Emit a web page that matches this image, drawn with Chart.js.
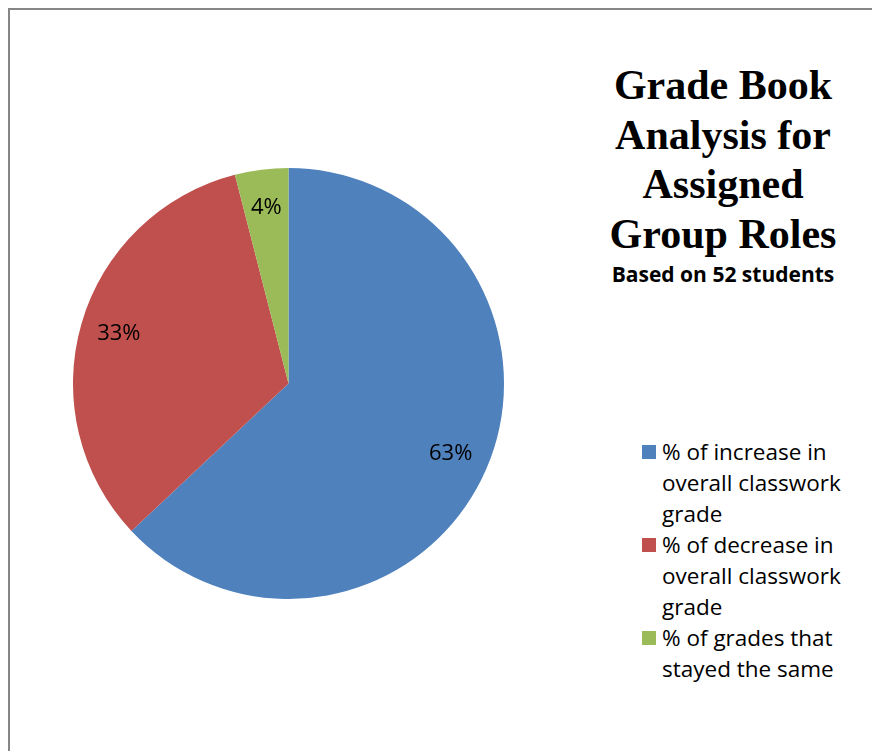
<!DOCTYPE html>
<html>
<head>
<meta charset="utf-8">
<title>Grade Book Analysis for Assigned Group Roles</title>
<script src="https://cdn.jsdelivr.net/npm/chart.js@4/dist/chart.umd.min.js"></script>
<style>
  html, body { margin: 0; padding: 0; background: #fff; overflow: hidden; }
  body { width: 872px; height: 751px; position: relative; }
  .frame {
    position: absolute; left: 8px; top: 8px; width: 864px; height: 743px;
    border-top: 2px solid #868686; border-left: 2px solid #868686; box-sizing: border-box;
  }
  .pie-box { position: absolute; left: 73px; top: 168px; width: 431px; height: 431px; }
  .title {
    position: absolute; left: 583px; top: 61px; width: 280px; text-align: center;
    font-family: "Liberation Serif", "Times New Roman", serif; font-weight: bold;
    font-size: 42px; line-height: 49.5px; color: #000;
  }
  .subtitle {
    position: absolute; left: 563px; top: 260px; width: 320px; text-align: center;
    font-family: "Open Sans", Lato, sans-serif; font-weight: bold; font-size: 21px; color: #000;
  }
  .legend {
    position: absolute; left: 642px; top: 436px; width: 230px;
    font-family: "Open Sans", Lato, sans-serif; font-size: 22.5px; line-height: 31px; color: #000;
  }
  .legend-item { position: relative; padding-left: 20px; width: 210px; }
  .legend-swatch { position: absolute; left: 0; top: 9px; width: 14px; height: 14px; }
</style>
</head>
<body>
<div class="frame"></div>
<div class="pie-box"><canvas id="gradePie" width="431" height="431"></canvas></div>
<div class="title">Grade Book<br>Analysis for<br>Assigned<br>Group Roles</div>
<div class="subtitle">Based on 52 students</div>
<div class="legend" id="legend"></div>

<script>
// Share of the 52 students in each outcome (percent)
const categories = [
  '% of increase in overall classwork grade',
  '% of decrease in overall classwork grade',
  '% of grades that stayed the same'
];
const percents = [63, 33, 4];
const sliceColors = ['#4F81BD', '#C0504D', '#9BBB59'];

// percentage text inside each slice
const sliceLabels = {
  id: 'sliceLabels',
  afterDatasetsDraw(chart) {
    const { ctx } = chart;
    const data = chart.data.datasets[0].data;
    const total = data.reduce((a, b) => a + b, 0);
    chart.getDatasetMeta(0).data.forEach((arc, i) => {
      const p = arc.getProps(['x', 'y', 'startAngle', 'endAngle', 'outerRadius'], true);
      const mid = (p.startAngle + p.endAngle) / 2;
      const r = p.outerRadius * 0.82;
      ctx.save();
      ctx.font = '22px "Open Sans", Lato, sans-serif';
      ctx.fillStyle = '#000';
      ctx.textAlign = 'center';
      ctx.textBaseline = 'middle';
      ctx.fillText(Math.round(data[i] / total * 100) + '%', p.x + Math.cos(mid) * r, p.y + Math.sin(mid) * r);
      ctx.restore();
    });
  }
};

const chart = new Chart(document.getElementById('gradePie'), {
  type: 'pie',
  data: {
    labels: categories,
    datasets: [{ data: percents, backgroundColor: sliceColors, borderWidth: 0 }]
  },
  options: {
    responsive: false,
    animation: false,
    layout: { padding: 0 },
    plugins: { legend: { display: false }, tooltip: { enabled: false } }
  },
  plugins: [sliceLabels]
});

// legend on the right
document.getElementById('legend').innerHTML = chart.data.labels.map((label, i) => `
  <div class="legend-item">
    <span class="legend-swatch" style="background:${sliceColors[i]}"></span>${label}
  </div>`).join('');
</script>
</body>
</html>
